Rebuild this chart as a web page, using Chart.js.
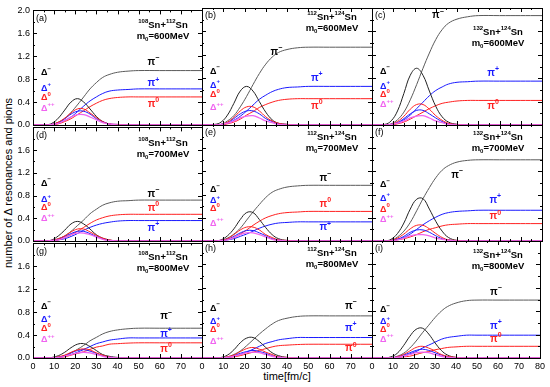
<!DOCTYPE html>
<html>
<head>
<meta charset="utf-8">
<script src="https://cdn.jsdelivr.net/npm/chart.js@4/dist/chart.umd.min.js"></script>
<style>
  body { margin:0; background:#fff; width:550px; height:387px; position:relative; overflow:hidden;
         font-family: Arial, "Liberation Sans", sans-serif; }
  canvas { position:absolute; }
  .ytitle { position:absolute; left:8px; top:183px; font-size:11px; white-space:nowrap;
            transform: translate(-50%,-50%) rotate(-90deg); }
  .xtitle { position:absolute; left:287px; top:376px; font-size:11px; white-space:nowrap;
            transform: translate(-50%,-50%); }
</style>
</head>
<body>
<div class="ytitle">number of &Delta; resonances and pions</div>
<div class="xtitle">time[fm/c]</div>
<script>
// ---- data (time in fm/c; one row per panel a..i) ----
const times = [0,6,9,12,15,18,21,24,27,30,33,36,40,45,50,60,80];
const panelTags = ["(a)","(b)","(c)","(d)","(e)","(f)","(g)","(h)","(i)"];
const projectiles = ["108","112","132"];
const targets = ["112","124","124"];
const beamEnergies = [600,700,800];

const piMinus = [
  [0,0,0.01,0.05,0.11,0.22,0.35,0.49,0.63,0.74,0.83,0.88,0.92,0.94,0.95,0.95,0.95],
  [0,0,0.01,0.07,0.16,0.31,0.49,0.69,0.88,1.04,1.16,1.24,1.29,1.32,1.33,1.33,1.33],
  [0,0,0.02,0.09,0.22,0.43,0.69,0.97,1.23,1.46,1.63,1.74,1.81,1.85,1.87,1.87,1.87],
  [0,0,0.01,0.04,0.09,0.17,0.27,0.37,0.48,0.56,0.63,0.67,0.70,0.71,0.72,0.72,0.72],
  [0,0,0.01,0.05,0.12,0.22,0.36,0.50,0.63,0.75,0.84,0.89,0.93,0.95,0.96,0.96,0.96],
  [0,0,0.01,0.07,0.17,0.32,0.52,0.73,0.92,1.09,1.22,1.30,1.36,1.39,1.40,1.40,1.40],
  [0,0,0,0.02,0.04,0.09,0.15,0.22,0.30,0.36,0.42,0.46,0.49,0.51,0.52,0.52,0.52],
  [0,0,0,0.02,0.06,0.12,0.21,0.31,0.41,0.50,0.58,0.64,0.68,0.71,0.72,0.72,0.72],
  [0,0,0,0.03,0.08,0.17,0.29,0.43,0.56,0.69,0.80,0.88,0.94,0.98,0.99,0.99,0.99]
];
const piPlus = [
  [0,0,0.01,0.03,0.08,0.14,0.23,0.33,0.42,0.49,0.55,0.59,0.61,0.62,0.63,0.63,0.63],
  [0,0,0.01,0.03,0.08,0.15,0.24,0.34,0.44,0.51,0.57,0.61,0.64,0.65,0.66,0.66,0.66],
  [0,0,0.01,0.04,0.09,0.17,0.28,0.39,0.50,0.59,0.65,0.70,0.73,0.74,0.75,0.75,0.75],
  [0,0,0,0.02,0.04,0.08,0.13,0.19,0.24,0.28,0.31,0.33,0.35,0.36,0.36,0.36,0.36],
  [0,0,0,0.02,0.04,0.08,0.12,0.17,0.22,0.26,0.29,0.31,0.32,0.33,0.33,0.33,0.33],
  [0,0,0.01,0.03,0.06,0.12,0.20,0.28,0.35,0.41,0.46,0.49,0.51,0.52,0.53,0.53,0.53],
  [0,0,0,0.01,0.03,0.06,0.10,0.15,0.20,0.25,0.28,0.31,0.33,0.35,0.35,0.35,0.35],
  [0,0,0,0.01,0.03,0.06,0.10,0.15,0.20,0.25,0.28,0.31,0.33,0.35,0.35,0.35,0.35],
  [0,0,0,0.01,0.03,0.07,0.11,0.17,0.22,0.27,0.32,0.35,0.37,0.39,0.39,0.39,0.39]
];
const piZero = [
  [0,0,0,0.02,0.06,0.11,0.18,0.25,0.32,0.38,0.43,0.46,0.48,0.49,0.49,0.49,0.49],
  [0,0,0,0.02,0.05,0.10,0.17,0.23,0.30,0.35,0.39,0.42,0.44,0.45,0.45,0.45,0.45],
  [0,0,0,0.02,0.05,0.10,0.16,0.22,0.28,0.33,0.37,0.39,0.41,0.42,0.42,0.42,0.42],
  [0,0,0,0.02,0.06,0.11,0.17,0.24,0.31,0.37,0.41,0.44,0.46,0.47,0.47,0.47,0.47],
  [0,0,0.01,0.03,0.06,0.12,0.19,0.27,0.34,0.40,0.44,0.47,0.49,0.50,0.51,0.51,0.51],
  [0,0,0,0.02,0.04,0.07,0.11,0.16,0.20,0.23,0.26,0.28,0.29,0.30,0.30,0.30,0.30],
  [0,0,0,0.01,0.02,0.05,0.08,0.11,0.15,0.19,0.21,0.24,0.25,0.26,0.265,0.265,0.265],
  [0,0,0,0.01,0.02,0.04,0.07,0.10,0.13,0.16,0.19,0.21,0.22,0.23,0.235,0.235,0.235],
  [0,0,0,0.01,0.02,0.03,0.06,0.09,0.11,0.14,0.16,0.18,0.19,0.20,0.20,0.20,0.20]
];
const deltaMinus = [
  [0,0,0.03,0.12,0.26,0.40,0.46,0.40,0.28,0.15,0.06,0.02,0,0,0,0,0],
  [0,0.01,0.05,0.17,0.37,0.58,0.66,0.58,0.40,0.22,0.09,0.03,0.01,0,0,0,0],
  [0,0.01,0.07,0.24,0.54,0.85,0.97,0.85,0.58,0.32,0.14,0.05,0.01,0,0,0,0],
  [0,0,0.02,0.09,0.19,0.30,0.345,0.30,0.21,0.11,0.05,0.02,0,0,0,0,0],
  [0,0,0.02,0.09,0.21,0.37,0.49,0.49,0.37,0.23,0.11,0.04,0.01,0,0,0,0],
  [0,0,0.03,0.13,0.31,0.55,0.72,0.73,0.55,0.34,0.17,0.06,0.01,0,0,0,0],
  [0,0,0.01,0.04,0.10,0.18,0.24,0.25,0.20,0.13,0.06,0.03,0.01,0,0,0,0],
  [0,0,0.01,0.05,0.14,0.26,0.34,0.35,0.28,0.18,0.09,0.04,0.01,0,0,0,0],
  [0,0,0.02,0.08,0.21,0.37,0.49,0.51,0.41,0.26,0.13,0.05,0.01,0,0,0,0]
];
const deltaPlus = [
  [0,0,0.01,0.04,0.11,0.19,0.24,0.24,0.19,0.11,0.06,0.02,0.01,0,0,0,0],
  [0,0,0.01,0.04,0.11,0.19,0.24,0.24,0.19,0.11,0.06,0.02,0.01,0,0,0,0],
  [0,0,0.01,0.04,0.11,0.19,0.25,0.25,0.19,0.12,0.06,0.02,0.01,0,0,0,0],
  [0,0,0.01,0.03,0.08,0.13,0.17,0.17,0.13,0.08,0.04,0.01,0,0,0,0,0],
  [0,0,0.01,0.03,0.08,0.14,0.18,0.18,0.14,0.09,0.04,0.02,0,0,0,0,0],
  [0,0,0.01,0.03,0.08,0.15,0.19,0.19,0.15,0.09,0.04,0.02,0,0,0,0,0],
  [0,0,0,0.01,0.04,0.09,0.13,0.145,0.12,0.08,0.04,0.02,0,0,0,0,0],
  [0,0,0,0.01,0.04,0.08,0.11,0.13,0.11,0.08,0.04,0.02,0,0,0,0,0],
  [0,0,0,0.02,0.05,0.09,0.13,0.15,0.13,0.09,0.05,0.02,0,0,0,0,0]
];
const deltaZero = [
  [0,0,0.01,0.05,0.12,0.21,0.28,0.28,0.21,0.13,0.06,0.02,0.01,0,0,0,0],
  [0,0,0.01,0.05,0.13,0.24,0.31,0.31,0.24,0.14,0.07,0.03,0.01,0,0,0,0],
  [0,0,0.01,0.06,0.15,0.27,0.35,0.35,0.27,0.16,0.08,0.03,0.01,0,0,0,0],
  [0,0,0.01,0.04,0.09,0.16,0.21,0.21,0.16,0.10,0.05,0.02,0,0,0,0,0],
  [0,0,0.01,0.04,0.11,0.19,0.24,0.24,0.19,0.11,0.06,0.02,0.01,0,0,0,0],
  [0,0,0.01,0.05,0.12,0.21,0.27,0.27,0.21,0.13,0.06,0.02,0.01,0,0,0,0],
  [0,0,0,0.02,0.05,0.10,0.14,0.16,0.14,0.09,0.05,0.02,0,0,0,0,0],
  [0,0,0,0.02,0.05,0.11,0.16,0.18,0.15,0.10,0.06,0.02,0.01,0,0,0,0],
  [0,0,0,0.02,0.06,0.12,0.18,0.20,0.17,0.12,0.06,0.03,0.01,0,0,0,0]
];
const deltaPP = [
  [0,0,0.01,0.03,0.08,0.14,0.18,0.18,0.14,0.09,0.04,0.02,0,0,0,0,0],
  [0,0,0.01,0.03,0.07,0.12,0.15,0.16,0.12,0.07,0.04,0.01,0,0,0,0,0],
  [0,0,0.01,0.03,0.07,0.12,0.15,0.16,0.12,0.07,0.04,0.01,0,0,0,0,0],
  [0,0,0.01,0.02,0.06,0.11,0.14,0.14,0.11,0.07,0.03,0.01,0,0,0,0,0],
  [0,0,0.01,0.02,0.06,0.11,0.14,0.14,0.11,0.07,0.03,0.01,0,0,0,0,0],
  [0,0,0,0.02,0.05,0.09,0.11,0.11,0.09,0.05,0.03,0.01,0,0,0,0,0],
  [0,0,0,0.01,0.03,0.06,0.09,0.10,0.09,0.06,0.03,0.01,0,0,0,0,0],
  [0,0,0,0.01,0.03,0.06,0.09,0.10,0.09,0.06,0.03,0.01,0,0,0,0,0],
  [0,0,0,0.01,0.03,0.06,0.09,0.10,0.09,0.06,0.03,0.01,0,0,0,0,0]
];

// ---- layout (label anchors in axis units, panel boxes in px) ----
const pionLabelAt = [ // [pi-, pi+, pi0] as [t, value]
  [[57,1.10],[57,0.72],[57,0.36]],
  [[35,1.24],[54,0.80],[54,0.32]],
  [[31,1.87],[57,0.89],[57,0.32]],
  [[57,0.82],[57,0.23],[57,0.58]],
  [[58,1.08],[58,0.23],[58,0.63]],
  [[40,1.13],[58,0.71],[58,0.42]],
  [[63,0.72],[63,0.41],[63,0.16]],
  [[70,0.88],[70,0.51],[70,0.16]],
  [[59,1.12],[59,0.55],[59,0.32]]
];
const deltaLabelY = [ // [D-, D+, D0, D++]
  [0.91,0.64,0.48,0.29],[0.92,0.68,0.52,0.30],[0.92,0.66,0.52,0.35],
  [1.02,0.73,0.59,0.39],[0.88,0.69,0.56,0.31],[0.97,0.74,0.55,0.37],
  [0.90,0.67,0.51,0.32],[0.85,0.62,0.49,0.28],[0.83,0.62,0.49,0.32]
];
const titleDy = [15,9,24,16,12,12,14,12,14];

const colLeft = [33,202,372], colWidth = [169,170,170];
const rowTop = [8,125,241], rowHeight = [117,116,117];
const PAD_L = 30, PAD_T = 6, PAD_R = 6, PAD_B = 20;

const BLACK = "#222", GRAY = "#5a5a5a", BLUE = "#1a1aff", RED = "#ff2020", MAG = "#f064f0";
const FONT = 'Arial, "Liberation Sans", sans-serif';

function richText(ctx, parts, x, y, size, color, align) {
  ctx.save();
  ctx.fillStyle = color;
  ctx.textBaseline = "middle";
  ctx.textAlign = "left";
  const big = `bold ${size}px ${FONT}`;
  const small = `bold ${Math.round(size * 0.65)}px ${FONT}`;
  let w = 0;
  parts.forEach(([t, k]) => { ctx.font = k === "n" ? big : small; w += ctx.measureText(t).width; });
  let cx = align === "center" ? x - w / 2 : x;
  parts.forEach(([t, k]) => {
    ctx.font = k === "n" ? big : small;
    const dy = k === "sup" ? -size * 0.4 : k === "sub" ? size * 0.3 : 0;
    ctx.fillText(t, cx, y + dy);
    cx += ctx.measureText(t).width;
  });
  ctx.restore();
}

// frame + inward ticks on all four sides
const frameTicks = {
  id: "frameTicks",
  afterDatasetsDraw(chart) {
    const { ctx, chartArea: a, scales: { x, y } } = chart;
    ctx.save();
    ctx.strokeStyle = "#000";
    ctx.lineWidth = 1;
    ctx.beginPath();
    for (let v = 0; v <= 80; v += 5) {
      const px = Math.round(x.getPixelForValue(v)) + 0.5;
      const l = v % 10 === 0 ? 4 : 2;
      ctx.moveTo(px, a.bottom); ctx.lineTo(px, a.bottom - l);
      ctx.moveTo(px, a.top); ctx.lineTo(px, a.top + l);
    }
    for (let k = 0; k <= 10; k++) {
      const py = Math.round(y.getPixelForValue(k * 0.2)) + 0.5;
      const l = k % 2 === 0 ? 4 : 2;
      ctx.moveTo(a.left, py); ctx.lineTo(a.left + l, py);
      ctx.moveTo(a.right, py); ctx.lineTo(a.right - l, py);
    }
    ctx.stroke();
    ctx.strokeRect(Math.round(a.left) + 0.5, Math.round(a.top) + 0.5,
                   Math.round(a.right - a.left), Math.round(a.bottom - a.top));
    ctx.restore();
  }
};

// panel texts
const panelText = {
  id: "panelText",
  afterDraw(chart) {
    const p = chart.options.plugins.panelText.index;
    const col = p % 3, row = Math.floor(p / 3);
    const { ctx, chartArea: a, scales: { x, y } } = chart;
    ctx.save();
    ctx.fillStyle = "#000";
    ctx.font = `9px ${FONT}`;
    ctx.textBaseline = "middle";
    ctx.fillText(panelTags[p], a.left + 3, a.top + 8);
    ctx.restore();

    const cx = a.left + (col === 2 ? 126 : 130);
    const ty = a.top + titleDy[p];
    richText(ctx, [[projectiles[col], "sup"], ["Sn+", "n"], [targets[col], "sup"], ["Sn", "n"]],
             cx, ty, 9.5, "#000", "center");
    richText(ctx, [["m", "n"], ["0", "sub"], ["=" + beamEnergies[row] + "MeV", "n"]],
             cx, ty + 11, 9.5, "#000", "center");

    const dl = deltaLabelY[p];
    const dx = a.left + 8;
    richText(ctx, [["\u0394", "n"], ["\u2212", "sup"]], dx, y.getPixelForValue(dl[0]), 9, "#000", "left");
    richText(ctx, [["\u0394", "n"], ["+", "sup"]], dx, y.getPixelForValue(dl[1]), 9, BLUE, "left");
    richText(ctx, [["\u0394", "n"], ["0", "sup"]], dx, y.getPixelForValue(dl[2]), 9, RED, "left");
    richText(ctx, [["\u0394", "n"], ["++", "sup"]], dx, y.getPixelForValue(dl[3]), 9, MAG, "left");

    const pl = pionLabelAt[p];
    const sups = ["\u2212", "+", "0"], cols = ["#000", BLUE, RED];
    pl.forEach(([t, v], k) => {
      richText(ctx, [["\u03c0", "n"], [sups[k], "sup"]],
               x.getPixelForValue(t), y.getPixelForValue(v), 10, cols[k], "center");
    });
  }
};

function series(arr, color, width) {
  return {
    data: times.map((t, i) => ({ x: t, y: arr[i] })),
    borderColor: color,
    borderWidth: width,
    pointRadius: 0,
    tension: 0.4,
    clip: false
  };
}

for (let p = 0; p < 9; p++) {
  const col = p % 3, row = Math.floor(p / 3);
  const cv = document.createElement("canvas");
  const w = colWidth[col] + PAD_L + PAD_R, h = rowHeight[row] + PAD_T + PAD_B;
  cv.width = w; cv.height = h;
  cv.style.left = (colLeft[col] - PAD_L) + "px";
  cv.style.top = (rowTop[row] - PAD_T) + "px";
  cv.style.width = w + "px"; cv.style.height = h + "px";
  document.body.appendChild(cv);

  new Chart(cv.getContext("2d"), {
    type: "line",
    data: {
      datasets: [
        series(deltaPP[p], MAG, 1.3),
        series(deltaZero[p], RED, 1),
        series(deltaPlus[p], BLUE, 1),
        series(deltaMinus[p], BLACK, 1),
        series(piZero[p], RED, 1),
        series(piPlus[p], BLUE, 1),
        series(piMinus[p], GRAY, 1)
      ]
    },
    options: {
      responsive: false,
      animation: false,
      devicePixelRatio: 1,
      layout: { padding: { left: 0, top: PAD_T, right: PAD_R, bottom: 0 } },
      plugins: { legend: { display: false }, tooltip: { enabled: false }, panelText: { index: p } },
      scales: {
        x: {
          type: "linear", min: 0, max: 80,
          grid: { display: false, drawTicks: false },
          border: { display: false },
          afterFit: s => { s.height = PAD_B; },
          ticks: {
            display: row === 2, stepSize: 10, padding: 3, color: "#000",
            font: { size: 9, family: FONT },
            maxRotation: 0,
            callback: v => (col < 2 && v === 80) ? "" : String(v)
          }
        },
        y: {
          min: 0, max: 2,
          grid: { display: false, drawTicks: false },
          border: { display: false },
          afterFit: s => { s.width = PAD_L; },
          ticks: {
            display: col === 0, stepSize: 0.4, padding: 3, color: "#000",
            font: { size: 9, family: FONT },
            callback: v => (row > 0 && v >= 2) ? "" : Number(v).toFixed(1)
          }
        }
      }
    },
    plugins: [frameTicks, panelText]
  });
}
</script>
</body>
</html>
